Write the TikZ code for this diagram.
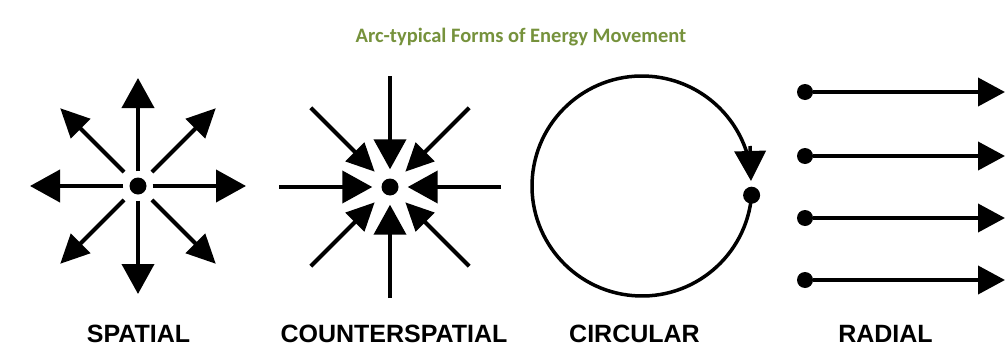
\documentclass[tikz,border=0pt]{standalone}
\usepackage{fontspec}
\setmainfont{Liberation Sans}
\newfontfamily\titlefont{Carlito}
\usetikzlibrary{arrows.meta,calc}
\definecolor{titlegreen}{RGB}{118,146,60}
\tikzset{
  dot/.style={circle,fill=black,inner sep=0pt,minimum size=16pt},
  bigtip/.style={-{Triangle[length=30pt,width=32pt]}},
  diagtip/.style={-{Triangle[length=28pt,width=26pt]}},
  shaft/.style={line width=4pt},
  label/.style={font=\fontsize{25}{25}\selectfont\bfseries,anchor=base},
}
\begin{document}
\begin{tikzpicture}[x=1pt,y=-1pt]
\path[use as bounding box,fill=white] (0,0) rectangle (1007,351);
% title
\node[text=titlegreen,font=\titlefont\bfseries\fontsize{20.5}{20.5}\selectfont,anchor=base] (title) at (521,42) {Arc-typical Forms of Energy Movement};
% SPATIAL
\node[dot,minimum size=17pt] (s) at (138,186) {};
\foreach \a in {0,90,180,270}{
  \coordinate (s\a) at ($(s.center)+(\a:108)$);
  \draw[shaft,bigtip,shorten <=6pt] (s) -- (s\a);
}
\foreach \a in {45,135,225,315}{
  \coordinate (s\a) at ($(s.center)+(\a:110)$);
  \draw[shaft,-{Triangle[length=29pt,width=27pt]},shorten <=11pt] (s) -- (s\a);
}
% COUNTERSPATIAL
\node[dot,minimum size=17pt] (c) at (390,187) {};
\foreach \a in {0,90,180,270}{
  \coordinate (c\a) at ($(c.center)+(\a:111)$);
  \draw[shaft,bigtip,shorten >=9pt] (c\a) -- (c);
}
\foreach \a in {45,135,225,315}{
  \coordinate (c\a) at ($(c.center)+(\a:112)$);
  \draw[shaft,diagtip,shorten >=13pt] (c\a) -- (c);
}
% CIRCULAR
\coordinate (cc) at (642,186);
\node[dot,minimum size=17pt] (cd) at ($(cc)+(4.8:110)$) {};
\coordinate (ctip) at (751,181);
\coordinate (cbase) at (750,146);
\draw[line width=3.5pt] (cd.center) arc[start angle=4.8,end angle=342,radius=110];
\draw[line width=3.5pt,-{Triangle[length=30pt,width=31pt]}] (cbase) -- (ctip);
% RADIAL
\foreach \i/\y in {1/92,2/156,3/218,4/280}{
  \node[dot] (r\i) at (805,\y) {};
  \coordinate (rt\i) at (1005,\y);
  \draw[shaft,-{Triangle[length=27pt,width=28pt]}] (r\i) -- (rt\i);
}
% labels
\node[label] (l1) at (138.5,342) {SPATIAL};
\node[label] (l2) at (394,342) {COUNTERSPATIAL};
\node[label] (l3) at (634.5,342) {CIRCULAR};
\node[label] (l4) at (885.5,342) {RADIAL};
\end{tikzpicture}
\end{document}
